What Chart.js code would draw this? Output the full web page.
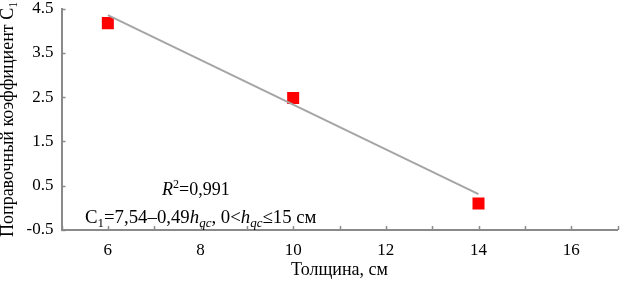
<!DOCTYPE html>
<html>
<head>
<meta charset="utf-8">
<script src="https://cdn.jsdelivr.net/npm/chart.js@4"></script>
<style>
  html, body { margin: 0; padding: 0; background: #fff; }
  #wrap { width: 626px; height: 281px; }
</style>
</head>
<body>
<div id="wrap"><canvas id="chart"></canvas></div>
<script>
const thickness = [6, 10, 14];
const coefficient = [4.17, 2.48, 0.1];
const trendX = [6, 14];
const trendY = [4.35, 0.31];

const axisColor = "#8a8a8a";
const serif = "'Liberation Serif', 'Times New Roman', serif";

// inward tick marks, like in the original figure
const innerTicks = {
  id: "innerTicks",
  afterDatasetsDraw(chart) {
    const ctx = chart.ctx;
    const { x, y } = chart.scales;
    const area = chart.chartArea;
    ctx.save();
    ctx.strokeStyle = axisColor;
    ctx.lineWidth = 1.5;
    x.ticks.forEach(t => {
      const px = Math.round(x.getPixelForValue(t.value)) + 0.5;
      ctx.beginPath();
      ctx.moveTo(px, area.bottom);
      ctx.lineTo(px, area.bottom - 4);
      ctx.stroke();
    });
    y.ticks.forEach(t => {
      const py = Math.round(y.getPixelForValue(t.value)) + 0.5;
      ctx.beginPath();
      ctx.moveTo(area.left, py);
      ctx.lineTo(area.left + 4, py);
      ctx.stroke();
    });
    ctx.restore();
  }
};

// regression text with italics, sub- and superscripts
const equation = {
  id: "equation",
  afterDraw(chart) {
    const ctx = chart.ctx;
    function run(parts, x0, base, size) {
      const small = Math.round(size * 0.68);
      let cx = x0;
      parts.forEach(p => {
        const fs = p.s ? small : size;
        ctx.font = (p.i ? "italic " : "") + fs + "px " + serif;
        const dy = p.s === "sub" ? 4 : p.s === "sup" ? -7 : 0;
        ctx.fillText(p.t, cx, base + dy);
        cx += ctx.measureText(p.t).width;
      });
    }
    ctx.save();
    ctx.fillStyle = "#000";
    ctx.textBaseline = "alphabetic";
    run([{ t: "R", i: true }, { t: "2", s: "sup" }, { t: "=0,991" }], 162, 195, 18);
    run([
      { t: "C" }, { t: "1", s: "sub" }, { t: "=7,54\u20130,49" },
      { t: "h", i: true }, { t: "qc", i: true, s: "sub" },
      { t: ", 0<" },
      { t: "h", i: true }, { t: "qc", i: true, s: "sub" },
      { t: "\u226415 \u0441\u043c" }
    ], 85, 223, 18.8);
    ctx.restore();
  }
};

new Chart(document.getElementById("chart"), {
  type: "scatter",
  data: {
    datasets: [
      {
        label: "trend",
        type: "line",
        data: trendX.map((v, i) => ({ x: v, y: trendY[i] })),
        borderColor: "#a5a5a5",
        borderWidth: 2,
        pointRadius: 0,
        fill: false
      },
      {
        label: "C1",
        data: thickness.map((v, i) => ({ x: v, y: coefficient[i] })),
        pointStyle: "rect",
        pointRadius: 8.5,
        backgroundColor: "#ff0000",
        borderColor: "#ff0000",
        borderWidth: 0
      }
    ]
  },
  options: {
    responsive: true,
    maintainAspectRatio: false,
    animation: false,
    layout: { padding: { left: -3, right: -7, top: 8, bottom: 2 } },
    plugins: {
      legend: { display: false },
      tooltip: { enabled: false }
    },
    scales: {
      x: {
        type: "linear",
        min: 5,
        max: 17,
        afterFit: s => { s.paddingLeft = 0; s.paddingRight = 0; },
        border: { display: true, color: axisColor, width: 2 },
        grid: { display: true, drawOnChartArea: false, drawTicks: false },
        ticks: {
          stepSize: 1,
          autoSkip: false,
          maxRotation: 0,
          padding: 12,
          color: "#000",
          font: { family: serif, size: 17, lineHeight: 1 },
          callback: v => (v % 2 === 0 ? v : "")
        },
        title: {
          display: true,
          text: "Толщина, см",
          color: "#000",
          font: { family: serif, size: 18, lineHeight: 1 },
          padding: { top: -10, bottom: 0 }
        }
      },
      y: {
        min: -0.5,
        max: 4.5,
        afterFit: s => { s.paddingTop = 0; s.paddingBottom = 0; },
        border: { display: true, color: axisColor, width: 2 },
        grid: { display: true, drawOnChartArea: false, drawTicks: false },
        ticks: {
          stepSize: 1,
          padding: 8,
          color: "#000",
          font: { family: serif, size: 17 },
          callback: v => v.toFixed(1)
        },
        title: {
          display: true,
          text: "Поправочный коэффициент C₁",
          color: "#000",
          font: { family: serif, size: 18 },
          padding: { top: 0, bottom: 0 }
        }
      }
    }
  },
  plugins: [innerTicks, equation]
});
</script>
</body>
</html>
